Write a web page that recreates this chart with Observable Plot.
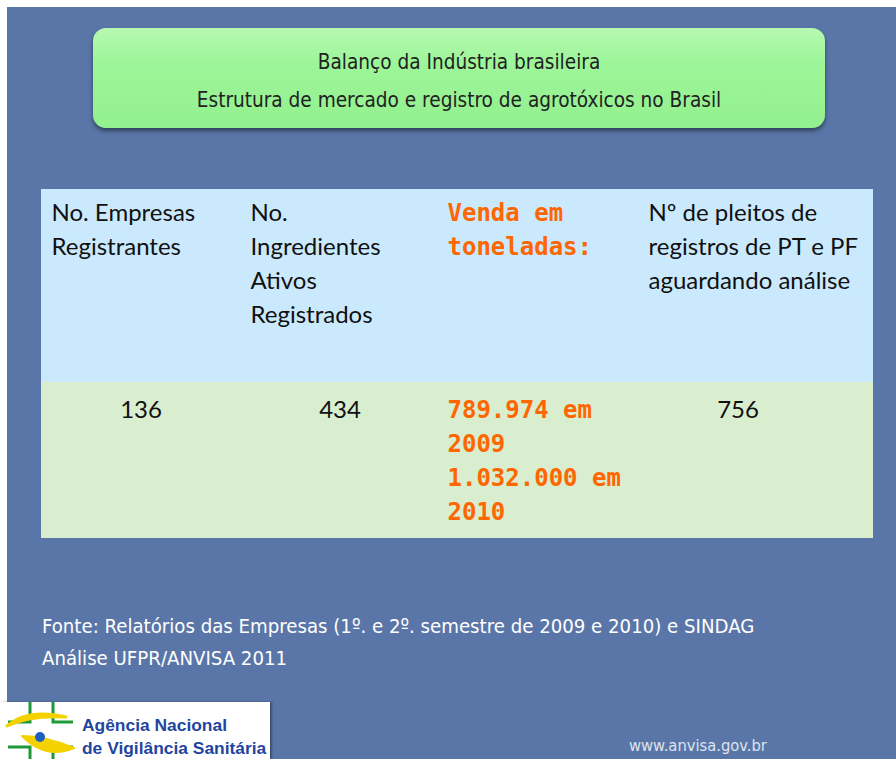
<!DOCTYPE html>
<html><head><meta charset="utf-8">
<script src="https://cdn.jsdelivr.net/npm/d3@7"></script>
<script src="https://cdn.jsdelivr.net/npm/@observablehq/plot@0.6"></script>
<style>
html,body{margin:0;padding:0;background:#fff;}
#page{position:relative;width:896px;height:759px;overflow:hidden;background:#fff;}
#slide{position:absolute;left:7px;top:7px;width:889px;height:752px;background:#5a76a8;}
#titlebox{position:absolute;left:86px;top:21px;width:732px;height:100px;border-radius:13px;
  background:linear-gradient(#b6f9b1 0%,#9df699 35%,#93f08e 100%);box-shadow:0 3px 4px rgba(0,0,0,0.45);
  font-family:"Liberation Sans Narrow","DejaVu Sans Condensed",sans-serif;font-size:20.6px;color:#222;text-align:center;}
#titlebox .l1{position:absolute;left:0;right:0;top:22px;}
#titlebox .l2{position:absolute;left:0;right:0;top:60px;}
#chart{position:absolute;left:0;top:182px;}
#caption{position:absolute;left:35px;top:603px;color:#fff;font-family:"Liberation Sans Narrow","DejaVu Sans Condensed",sans-serif;font-size:20.2px;line-height:32px;white-space:nowrap;}
#logo{position:absolute;left:0;top:702px;width:270px;height:57px;background:#fff;box-shadow:2px 0 2px rgba(0,0,0,0.35);}
#logo .t{position:absolute;left:82px;font-family:"Liberation Sans","Arial",sans-serif;font-weight:bold;color:#1f45a0;font-size:17.4px;line-height:20px;white-space:nowrap;}
#url{position:absolute;left:629px;top:736px;font-family:"Liberation Sans Narrow","DejaVu Sans Condensed",sans-serif;font-size:16.4px;color:#dde3ee;}
</style></head>
<body>
<div id="page">
  <div id="slide">
    <div id="titlebox"><div class="l1"></div><div class="l2"></div></div>
    <div id="chart"></div>
    <div id="caption"></div>
  </div>
  <div id="logo">
    <svg width="80" height="57" style="position:absolute;left:0;top:0">
      <path d="M8,20 H30 V0 M53,0 V20 H73" fill="none" stroke="#1e9a3a" stroke-width="3"/>
      <path d="M8,45 H30 V57 M73,45 H53 V57" fill="none" stroke="#1e9a3a" stroke-width="3"/>
      <path d="M7,24 Q28,6 66,15 Q30,13 7,24 Z" fill="#f3d200" stroke="#f3d200" stroke-width="3" stroke-linejoin="round"/>
      <path d="M22,34 Q45,34 74,46 Q46,58 22,34 Z" fill="#f3d200" stroke="#f3d200" stroke-width="2" stroke-linejoin="round"/>
      <circle cx="40" cy="35" r="5" fill="#1f5fc0"/>
    </svg>
    <div class="t" style="top:13px">Agência Nacional</div>
    <div class="t" style="top:36px">de Vigilância Sanitária</div>
  </div>
  <div id="url">www.anvisa.gov.br</div>
</div>
<script>
// ---- Data ----
const titleLines = ["Balanço da Indústria brasileira", "Estrutura de mercado e registro de agrotóxicos no Brasil"];
const columnHeaders = [
  "No. Empresas\nRegistrantes",
  "No.\nIngredientes\nAtivos\nRegistrados",
  "Venda em\ntoneladas:",
  "Nº de pleitos de\nregistros de PT e PF\naguardando análise"
];
const empresasRegistrantes = 136;
const ingredientesAtivos = 434;
const vendaAnos = [2009, 2010];
const vendaToneladas = [789974, 1032000];
const pleitosAguardando = 756;
const destaque = [false, false, true, false];
const captionLines = [
  "Fonte: Relatórios das Empresas (1º. e 2º. semestre de 2009 e 2010) e SINDAG",
  "Análise UFPR/ANVISA 2011"
];

// ---- Text outside the chart ----
document.querySelector("#titlebox .l1").textContent = titleLines[0];
document.querySelector("#titlebox .l2").textContent = titleLines[1];
document.querySelector("#caption").innerHTML = captionLines.map(s => s.replace(/&/g,"&amp;")).join("<br>");

// ---- Build table data ----
const fmt = d3.formatLocale({decimal: ",", thousands: ".", grouping: [3], currency: ["R$", ""]}).format(",d");
const bodyValues = [
  String(empresasRegistrantes),
  String(ingredientesAtivos),
  vendaAnos.map((a, i) => `${fmt(vendaToneladas[i])} em\n${a}`).join("\n"),
  String(pleitosAguardando)
];

// layout (in line units of 34px)
const headerSpan = 193 / 34, bodySpan = 156 / 34;
const totalSpan = headerSpan + bodySpan;
const xMax = 832 / 199;
const orange = "#ff6600", ink = "#111";
const rows = [
  {name: "header", y1: 0, y2: headerSpan, fill: "#cbe9fc"},
  {name: "body", y1: headerSpan, y2: totalSpan, fill: "#d9edcf"}
];
const headerCells = columnHeaders.map((t, i) => ({col: i, text: t, hi: destaque[i]}));
const bodyCells = bodyValues.map((t, i) => ({col: i, text: t, hi: destaque[i]}));

const common = {fontSize: 24, lineHeight: 1.42, lineAnchor: "top"};
const sans = "Lato, 'Open Sans', sans-serif";
const mono = "'DejaVu Sans Mono', monospace";

const chart = Plot.plot({
  width: 889, height: 360,
  marginLeft: 34, marginRight: 23, marginTop: 0, marginBottom: 11,
  x: {domain: [0, xMax], axis: null},
  y: {domain: [0, totalSpan], reverse: true, axis: null},
  color: {type: "identity"},
  style: {background: "transparent", overflow: "visible"},
  marks: [
    Plot.rect(rows, {x1: () => 0, x2: () => xMax, y1: "y1", y2: "y2", fill: "fill"}),
    Plot.text(headerCells.filter(d => !d.hi), {...common, x: "col", y: () => 0.206, text: "text", textAnchor: "start", dx: 10, fill: ink, fontFamily: sans}),
    Plot.text(headerCells.filter(d => d.hi), {...common, x: "col", y: () => 0.206, text: "text", textAnchor: "start", dx: 8, fill: orange, fontFamily: mono, fontWeight: "bold"}),
    Plot.text(bodyCells.filter(d => !d.hi), {...common, x: d => d.col + 0.5, y: () => headerSpan + 0.32, text: "text", textAnchor: "middle", fill: ink, fontFamily: sans}),
    Plot.text(bodyCells.filter(d => d.hi), {...common, x: "col", y: () => headerSpan + 0.32, text: "text", textAnchor: "start", dx: 8, fill: orange, fontFamily: mono, fontWeight: "bold"})
  ]
});
document.getElementById("chart").appendChild(chart);
</script>
</body></html>
